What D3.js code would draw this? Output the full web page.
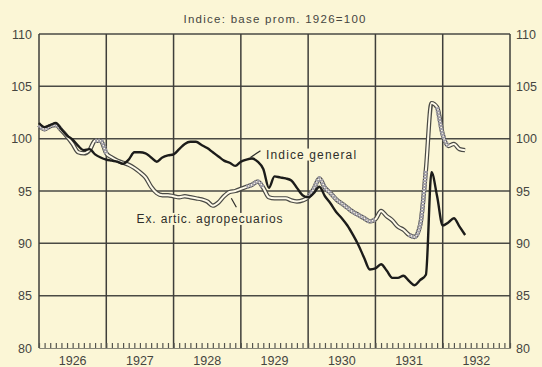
<!DOCTYPE html>
<html>
<head>
<meta charset="utf-8">
<script src="https://cdn.jsdelivr.net/npm/d3@7"></script>
<style>
  html, body { margin: 0; padding: 0; background: #fbf6d6; }
  svg { display: block; }
</style>
</head>
<body>
<svg id="chart" width="542" height="367"></svg>
<script>
// Monthly wholesale price indices from Jan 1926 (average 1926 = 100)
const yearLabels = ["1926", "1927", "1928", "1929", "1930", "1931", "1932"];
const yTicks = [80, 85, 90, 95, 100, 105, 110];

const indiceGeneral = [
  101.5, 101.1, 101.3, 101.5, 100.9, 100.3, 99.9, 99.3, 98.9, 99.0, 98.5, 98.2,
  98.0, 97.9, 97.8, 97.6, 98.0, 98.7, 98.7, 98.6, 98.2, 97.8, 98.2, 98.4,
  98.5, 99.0, 99.5, 99.7, 99.7, 99.4, 99.1, 98.7, 98.3, 97.9, 97.7, 97.4,
  97.8, 98.0, 98.1, 97.8, 97.1, 95.3, 96.4, 96.3, 96.2, 96.0, 95.3, 94.6,
  94.4, 94.8, 95.4, 94.5, 93.8, 93.0, 92.4, 91.7, 90.8, 89.8, 88.6, 87.5,
  87.6, 88.0, 87.4, 86.7, 86.7, 86.9, 86.4, 86.0, 86.5, 87.0, 96.8, 94.5,
  91.7, 92.0, 92.4, 91.6, 90.8
];

const exAgropecuarios = [
  101.3, 100.9, 101.2, 101.3, 100.8, 100.2, 99.5, 98.7, 98.6, 98.9, 99.8, 99.8,
  98.6, 98.2, 97.9, 97.7, 97.5, 97.2, 96.8, 96.3, 95.4, 94.8, 94.6, 94.6,
  94.5, 94.4, 94.5, 94.4, 94.3, 94.2, 94.0, 93.6, 93.9, 94.5, 94.9, 95.0,
  95.2, 95.4, 95.6, 95.9, 95.3, 94.4, 94.3, 94.3, 94.3, 94.1, 94.0, 94.1,
  94.4, 95.2, 96.2, 95.3, 94.8, 94.2, 93.8, 93.4, 93.0, 92.7, 92.4, 92.1,
  92.3, 93.1, 92.6, 92.2, 91.6, 91.3, 90.8, 90.6, 91.8, 97.0, 103.4, 103.0,
  100.4, 99.3, 99.5, 99.0, 98.9
];

const ink = "#2b2b28";
const paper = "#fbf6d6";
const textInk = "#45453f";
const labelFont = "Liberation Sans, Arial, sans-serif";

const svg = d3.select("#chart");
const plotLeft = 39, plotRight = 510, plotTop = 34, plotBottom = 348;

// months counted from Jan 1926; 7 years across the frame
const x = d3.scaleLinear().domain([0, 84]).range([plotLeft, plotRight]);
const y = d3.scaleLinear().domain([80, 110]).range([plotBottom, plotTop]);

// title
svg.append("text")
  .attr("x", (plotLeft + plotRight) / 2).attr("y", 23)
  .attr("text-anchor", "middle")
  .attr("font-family", labelFont)
  .attr("font-size", 11.5)
  .attr("fill", textInk)
  .attr("textLength", 182).attr("lengthAdjust", "spacing")
  .text("Indice: base prom. 1926=100");

// horizontal rules
const grid = svg.append("g");
grid.selectAll("line.h")
  .data(yTicks.filter(v => v > 80))
  .join("line").attr("class", "h")
  .attr("x1", plotLeft).attr("x2", plotRight)
  .attr("y1", d => y(d)).attr("y2", d => y(d))
  .attr("stroke", "#4a4a44").attr("stroke-width", 1.5);

// year boundaries
grid.selectAll("line.v")
  .data(d3.range(0, 85, 12))
  .join("line").attr("class", "v")
  .attr("x1", d => x(d)).attr("x2", d => x(d))
  .attr("y1", plotTop).attr("y2", plotBottom)
  .attr("stroke", "#3e3e3a").attr("stroke-width", 1.5);

// monthly tick row along the base
const baseAxis = d3.axisTop(x)
  .tickValues(d3.range(0, 85))
  .tickSize(5)
  .tickFormat("");
const ax = svg.append("g").attr("transform", `translate(0,${plotBottom})`).call(baseAxis);
ax.select(".domain").attr("stroke", "#6a6a60").attr("stroke-width", 0.8);
ax.selectAll(".tick line").attr("stroke", "#55554e").attr("stroke-width", 1.2);

// value labels on both sides
svg.append("g").selectAll("text")
  .data(yTicks).join("text")
  .attr("x", plotLeft - 7).attr("y", d => y(d)).attr("dy", "0.36em")
  .attr("text-anchor", "end")
  .attr("font-family", labelFont).attr("font-size", 12.5)
  .attr("fill", textInk)
  .text(d => d);
svg.append("g").selectAll("text")
  .data(yTicks).join("text")
  .attr("x", plotRight + 6).attr("y", d => y(d)).attr("dy", "0.36em")
  .attr("text-anchor", "start")
  .attr("font-family", labelFont).attr("font-size", 12.5)
  .attr("fill", textInk)
  .text(d => d);

// year labels, centred in each year
svg.append("g").selectAll("text")
  .data(yearLabels).join("text")
  .attr("x", (d, i) => x(i * 12 + 6))
  .attr("y", 365)
  .attr("text-anchor", "middle")
  .attr("font-family", labelFont).attr("font-size", 12.5)
  .attr("fill", textInk)
  .text(d => d);

const line = d3.line()
  .x((d, i) => x(i))
  .y(d => y(d))
  .curve(d3.curveMonotoneX);

// Ex. artic. agropecuarios: hollow double stroke
svg.append("path").datum(exAgropecuarios)
  .attr("d", line).attr("fill", "none")
  .attr("stroke", "#4a4a45").attr("stroke-width", 4.4)
  .attr("stroke-linejoin", "round");
svg.append("path").datum(exAgropecuarios)
  .attr("d", line).attr("fill", "none")
  .attr("stroke", "#fffbea").attr("stroke-width", 2.0)
  .attr("stroke-linejoin", "round");

// stippled stretches of the same series
const shadedSpans = [[0, 4], [10, 12], [37, 40], [48, 60], [66, 69], [71, 73]];
const spanLine = d3.line()
  .defined(d => d.on)
  .x(d => x(d.i))
  .y(d => y(d.v))
  .curve(d3.curveMonotoneX);
shadedSpans.forEach(([a, b]) => {
  const pts = exAgropecuarios.map((v, i) => ({ i, v, on: i >= a && i <= b }));
  svg.append("path").datum(pts)
    .attr("d", spanLine).attr("fill", "none")
    .attr("stroke", "#9d9ba6").attr("stroke-width", 4.2)
    .attr("stroke-dasharray", "2 1")
    .attr("stroke-linejoin", "round");
});

// Indice general: solid black
svg.append("path").datum(indiceGeneral)
  .attr("d", line).attr("fill", "none")
  .attr("stroke", "#1c1c1a").attr("stroke-width", 2.4)
  .attr("stroke-linejoin", "round");

// series labels with leader strokes
function seriesLabel(text, xm, yv, width) {
  const t = svg.append("text")
    .attr("x", x(xm)).attr("y", y(yv))
    .attr("font-family", labelFont).attr("font-size", 12)
    .attr("fill", "#2e2e2a")
    .attr("textLength", width).attr("lengthAdjust", "spacing")
    .text(text);
  const bb = t.node().getBBox();
  svg.insert("rect", () => t.node())
    .attr("x", bb.x - 1).attr("y", bb.y + 1)
    .attr("width", bb.width + 2).attr("height", bb.height - 2)
    .attr("fill", paper);
}
seriesLabel("Indice general", 40.5, 98.1, 90);
seriesLabel("Ex. artic. agropecuarios", 17.4, 91.95, 146);

svg.append("line")
  .attr("x1", x(37.7)).attr("y1", y(98.2))
  .attr("x2", x(39.5)).attr("y2", y(98.85))
  .attr("stroke", ink).attr("stroke-width", 1.2);
svg.append("line")
  .attr("x1", x(34.3)).attr("y1", y(94.3))
  .attr("x2", x(35.2)).attr("y2", y(93.45))
  .attr("stroke", ink).attr("stroke-width", 1.2);
</script>
</body>
</html>
